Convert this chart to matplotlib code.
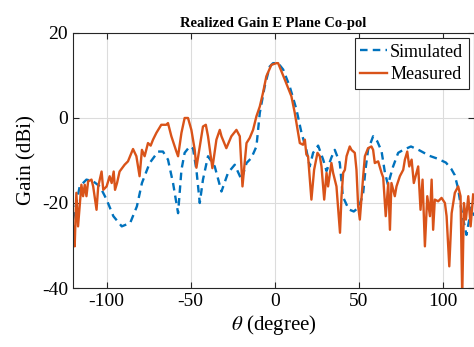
import numpy as np
import matplotlib.pyplot as plt

# simulated pattern (dashed)
sim_theta = [-120, -116, -112, -108, -104, -100, -96, -91, -86, -82, -79, -74.4, -69.4, -66.5,
             -63.5, -60.5, -57.5, -55.5, -53.6, -50.6, -48.6, -46.6, -44.6, -42.7, -39.7, -35.7,
             -31.7, -27.8, -23.8, -19.8, -16.8, -13.9, -10.9, -8.9, -6, -3, -1, 2, 5, 8.9, 12.9,
             15.9, 18.8, 20.8, 22.8, 25.8, 28.8, 30.8, 33.7, 35.7, 38.7, 40.5, 44, 47, 50, 52.5,
             54, 55.5, 58.5, 61, 63.5, 65.5, 67.3, 70.4, 73.4, 76, 81, 86, 92, 97, 101.8, 105,
             107, 109, 111, 114, 117, 118.5]
sim_gain = [-23.9, -16.1, -14.5, -14.9, -16.1, -19.2, -23.1, -25.5, -24.7, -20.8, -15.3, -10.6,
            -7.9, -7.9, -9.8, -15.3, -22.4, -12.2, -8.2, -6.7, -7.2, -12.2, -20, -14.5, -9.0,
            -11.4, -17.3, -12.9, -11, -14.5, -10.6, -9.4, -6.7, 1.2, 7.4, 12.1, 12.9, 12.9,
            11.4, 7.4, 2, -3.5, -7.5, -11.4, -8.2, -6.5, -9.8, -12.5, -9.3, -7.5, -10.6, -18.5,
            -21.5, -22, -21, -18, -12, -7.5, -4.3, -5.5, -7.8, -12.8, -15.7, -11.4, -8.2, -7.6,
            -6.7, -7.6, -8.9, -9.6, -10.5, -12, -13.4, -16.5, -21.6, -27.5, -21, -23]

# measured pattern (solid)
meas_theta = [-120, -119, -118, -117, -115, -114, -113, -112, -111, -109, -108, -106, -105,
              -103, -102, -100, -98.2, -97, -95.8, -95, -93.8, -92.3, -89.3, -87.3, -84.3,
              -82.3, -80.4, -79, -77.4, -75.4, -73.8, -72.4, -70.4, -67.5, -64.5, -63.5, -61.5,
              -58.5, -57.5, -55.5, -53.6, -51.6, -49.6, -47.6, -46.6, -44.6, -42.7, -41, -39.7,
              -37.1, -34.7, -32.7, -31.7, -28.8, -25.8, -22.8, -20.8, -19.2, -16.8, -14.9,
              -12.9, -10.9, -8.9, -7, -5, -2, 1, 2, 6, 9.9, 11.9, 14.9, 16.8, 17.9, 18.8, 19.8,
              21.8, 23.4, 25.4, 26.8, 27.8, 29.4, 30.8, 31.7, 33.7, 34.7, 36.7, 38.8, 39.7,
              40.7, 41.7, 42.7, 44.6, 45.6, 47.6, 48.6, 49.6, 50.6, 52.6, 53.6, 55.5, 57.5,
              58.5, 59.5, 61.5, 63.5, 64.5, 66, 67.5, 68.5, 69.4, 71.4, 72.4, 74.4, 76.4, 77.4,
              78.8, 80, 81.4, 82.7, 85.3, 86.7, 87.9, 89.3, 90.7, 92.3, 93.3, 94.2, 95.2, 97.2,
              99.2, 101.2, 102.2, 103.8, 105.2, 107.1, 109.1, 110.5, 111.5, 112.5, 113.7, 115.1,
              116.5, 118]
meas_gain = [-25.5, -30.2, -17.6, -25.5, -15.7, -18.4, -15.7, -18.4, -14.9, -14.5, -16.1, -21.6,
             -16.1, -12.6, -16.9, -16.1, -13.7, -15.3, -12.6, -16.9, -15.3, -12.6, -11, -10.2,
             -7.3, -9, -13.7, -7.5, -9, -5.9, -6.5, -5.1, -3.5, -1.6, -1.6, -1.2, -4.3, -7.9,
             -9, -3.5, 0, 0, -2.8, -7.5, -11.7, -6.7, -2, -1.6, -4.3, -11.8, -5.1, -2.8, -4.3,
             -7.1, -4.3, -2.8, -4.3, -16.1, -5.9, -4.7, -2.8, 0.4, 2.7, 5.9, 9.8, 12.5, 12.9,
             12.9, 9, 5.1, 1.2, -5.9, -6.3, -5.1, -8.6, -9, -19.2, -12.2, -8.2, -9, -11.4,
             -19.2, -12.9, -16.1, -10.6, -12.9, -16.1, -27, -18.4, -12.9, -12.2, -9, -6.7,
             -7.5, -8.2, -12.2, -20.8, -23.9, -13.7, -9, -7.1, -6.7, -7.5, -10.6, -10.2, -12.9,
             -14, -23.1, -15.3, -26.3, -15.3, -18.4, -16.1, -13.7, -12.2, -9.8, -7.9, -11.4,
             -9.8, -15.3, -11.4, -21.6, -14.5, -30.2, -18.4, -23.1, -14.5, -26.3, -19.2, -19.6,
             -18.8, -20, -23.1, -34.9, -22.4, -17.6, -16.1, -18.4, -42, -20, -23.9, -18.4,
             -25.5, -18]

plt.rcParams['font.family'] = ['Liberation Serif', 'DejaVu Serif']
plt.rcParams['mathtext.fontset'] = 'stix'
plt.rcParams['axes.unicode_minus'] = False

fig = plt.figure(figsize=(4.74, 3.47), dpi=100)
ax = fig.add_axes([0.154, 0.170, 0.846, 0.735])

ax.plot(sim_theta, sim_gain, '--', color='#0072BD', lw=1.7, dashes=(3.2, 2.2), label='Simulated')
ax.plot(meas_theta, meas_gain, '-', color='#D95319', lw=1.7, label='Measured')

ax.set_xlim(-120, 118.5)
ax.set_ylim(-40, 20)
ax.set_xticks([-100, -50, 0, 50, 100])
ax.set_yticks([-40, -20, 0, 20])
ax.grid(True, color='#dcdcdc', lw=0.8)
ax.tick_params(direction='in', top=True, right=True, labelsize=14, length=4, color='#262626')
for s in ax.spines.values():
    s.set_color('#262626')
    s.set_linewidth(0.8)

ax.set_xlabel(r'$\theta$ (degree)', fontsize=15, labelpad=2)
ax.set_ylabel('Gain (dBi)', fontsize=15, labelpad=4)
ax.set_title('Realized Gain E Plane Co-pol', fontsize=10.5, fontweight='bold', pad=4)

leg = ax.legend(loc='upper right', fontsize=13, handlelength=1.5, handletextpad=0.15,
                borderpad=0.3, labelspacing=0.3, borderaxespad=0.3, fancybox=False,
                framealpha=1, edgecolor='#262626')
leg.get_frame().set_linewidth(0.8)

fig.savefig('out.png', dpi=100)
